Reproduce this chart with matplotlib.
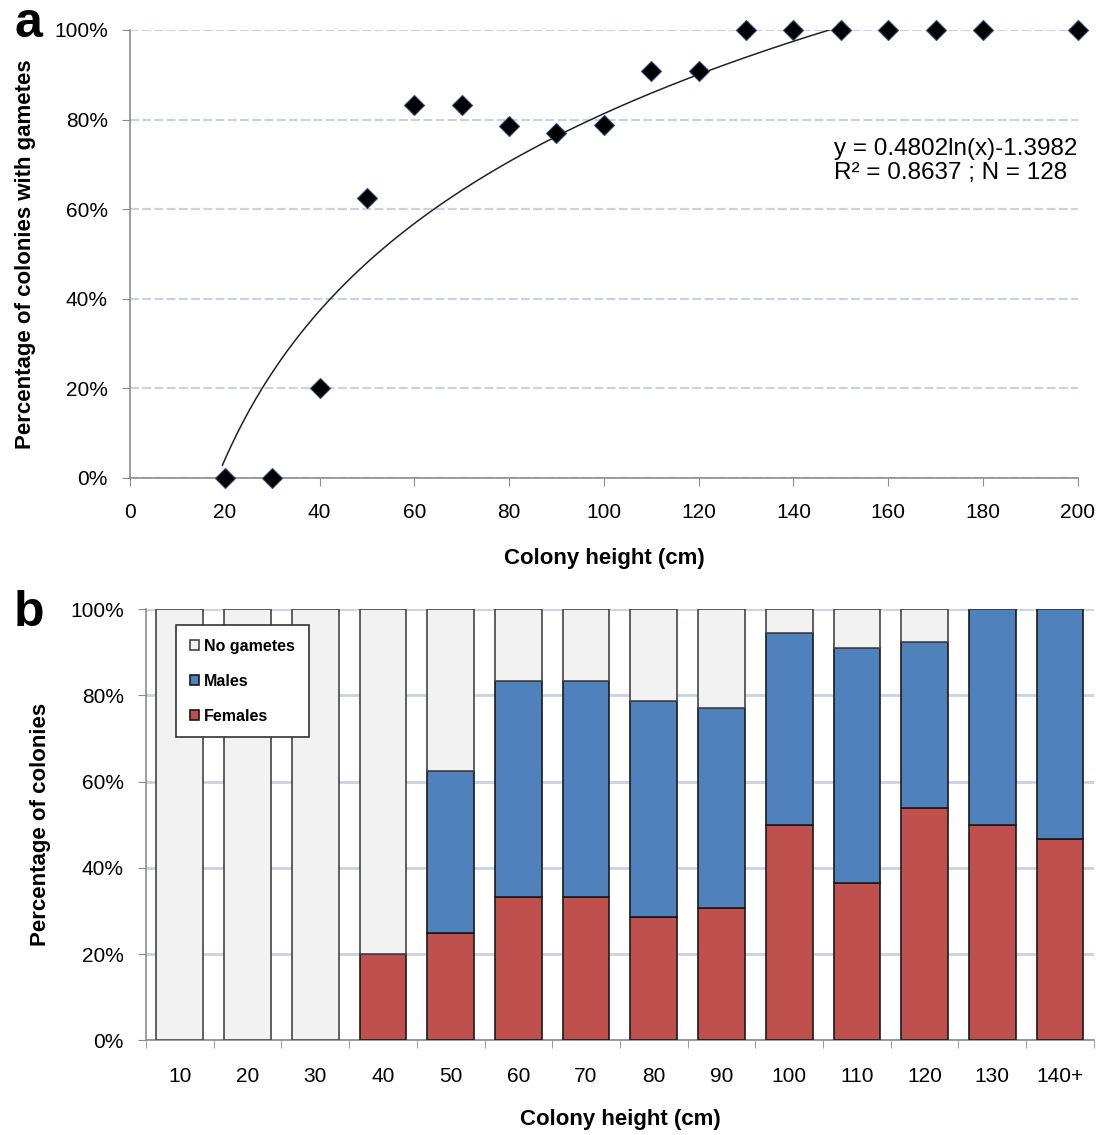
import numpy as np
import matplotlib
matplotlib.use('Agg')
import matplotlib.pyplot as plt
from matplotlib.ticker import PercentFormatter

plt.rcParams['font.family'] = ['Liberation Sans', 'DejaVu Sans']

# Panel a: fraction of colonies with gametes by height
height_a = [20, 30, 40, 50, 60, 70, 80, 90, 100, 110, 120, 130, 140, 150, 160, 170, 180, 200]
pct_gametes = [0.0, 0.0, 0.20, 0.625, 0.833, 0.833, 0.786, 0.77, 0.788, 0.908, 0.908,
               1.0, 1.0, 1.0, 1.0, 1.0, 1.0, 1.0]
fit_a, fit_b = 0.4802, -1.3982
fit_range = (19.5, 149.5)

# Panel b: stacked composition by height class
height_b = ['10', '20', '30', '40', '50', '60', '70', '80', '90', '100', '110', '120', '130', '140+']
females = [0.0, 0.0, 0.0, 0.20, 0.25, 0.333, 0.333, 0.286, 0.308, 0.50, 0.364, 0.538, 0.50, 0.467]
males = [0.0, 0.0, 0.0, 0.0, 0.375, 0.50, 0.50, 0.50, 0.462, 0.444, 0.545, 0.385, 0.50, 0.533]
no_gametes = [1.0, 1.0, 1.0, 0.80, 0.375, 0.167, 0.167, 0.214, 0.23, 0.056, 0.091, 0.077, 0.0, 0.0]

spine_col = '#8c8c8c'
grid_col = '#c9d2e3'

fig = plt.figure(figsize=(11.06, 11.35), dpi=100)

# ---------- panel a ----------
ax1 = fig.add_axes([0.1175, 0.5789, 0.857, 0.3947])
x_fit = np.linspace(fit_range[0], fit_range[1], 300)
ax1.plot(x_fit, fit_a * np.log(x_fit) + fit_b, color='#222222', lw=1.1, zorder=3)
ax1.plot(height_a, pct_gametes, linestyle='none', marker='D', markersize=10,
         markerfacecolor='black', markeredgecolor='#2b4a78', markeredgewidth=0.8,
         zorder=4, clip_on=False)

ax1.set_xlim(0, 200)
ax1.set_ylim(0, 1)
ax1.set_xticks(np.arange(0, 201, 20))
ax1.set_yticks(np.arange(0, 1.01, 0.2))
ax1.yaxis.set_major_formatter(PercentFormatter(1.0, decimals=0))
ax1.grid(axis='y', color=grid_col, linestyle=(0, (4, 1.5)), lw=1.6, zorder=0)
for s in ['top', 'right']:
    ax1.spines[s].set_visible(False)
for s in ['left', 'bottom']:
    ax1.spines[s].set_color(spine_col)
    ax1.spines[s].set_linewidth(1.2)
ax1.tick_params(axis='both', direction='out', length=6, color=spine_col, labelsize=15)
ax1.tick_params(axis='x', pad=12)
ax1.tick_params(axis='y', pad=10)
ax1.set_xlabel('Colony height (cm)', fontsize=16, fontweight='bold', labelpad=19)
ax1.set_ylabel('Percentage of colonies with gametes', fontsize=16, fontweight='bold', labelpad=13)
ax1.text(1.0, 0.707, 'y = 0.4802ln(x)-1.3982\nR² = 0.8637 ; N = 128',
         transform=ax1.transAxes, ha='right', va='center', multialignment='left',
         fontsize=17.5, linespacing=1.15)

# ---------- panel b ----------
ax2 = fig.add_axes([0.132, 0.0833, 0.857, 0.380])
pos = np.arange(len(height_b))
w = 0.69
ax2.bar(pos, females, w, color='#c0504d', edgecolor='#1a1a1a', lw=1.2, label='Females', zorder=3)
ax2.bar(pos, males, w, bottom=females, color='#4f81bd', edgecolor='#1a1a1a', lw=1.2,
        label='Males', zorder=3)
bottom_ng = np.array(females) + np.array(males)
ax2.bar(pos, no_gametes, w, bottom=bottom_ng, color='#f2f2f2', edgecolor='#444444', lw=1.2,
        label='No gametes', zorder=3)

ax2.set_xlim(-0.5, len(height_b) - 0.5)
ax2.set_ylim(0, 1)
ax2.set_yticks(np.arange(0, 1.01, 0.2))
ax2.yaxis.set_major_formatter(PercentFormatter(1.0, decimals=0))
ax2.set_xticks(pos)
ax2.set_xticklabels(height_b)
ax2.set_xticks(np.arange(-0.5, len(height_b), 1.0), minor=True)
ax2.grid(axis='y', color=grid_col, linestyle='-', lw=2.0, zorder=0)
for s in ['top', 'right']:
    ax2.spines[s].set_visible(False)
for s in ['left', 'bottom']:
    ax2.spines[s].set_color(spine_col)
    ax2.spines[s].set_linewidth(1.2)
ax2.tick_params(axis='x', which='major', length=0, labelsize=15, pad=19)
ax2.tick_params(axis='x', which='minor', length=6, color=spine_col, direction='out')
ax2.tick_params(axis='y', direction='out', length=6, color=spine_col, labelsize=15, pad=10)
ax2.set_xlabel('Colony height (cm)', fontsize=16, fontweight='bold', labelpad=17)
ax2.set_ylabel('Percentage of colonies', fontsize=16, fontweight='bold', labelpad=14)

h, l = ax2.get_legend_handles_labels()
leg = ax2.legend(h[::-1], l[::-1], loc='upper left', bbox_to_anchor=(0.032, 0.963),
                 frameon=True, fancybox=False, edgecolor='#333333', framealpha=1,
                 handlelength=0.6, handleheight=0.6, handletextpad=0.3,
                 labelspacing=1.25, borderpad=0.85, borderaxespad=0,
                 prop={'size': 11.5, 'weight': 'bold'})
leg.get_frame().set_linewidth(1.2)
leg.set_zorder(5)

# panel letters
fig.text(0.026, 0.979, 'a', fontsize=36, fontweight='bold', ha='center', va='center')
fig.text(0.026, 0.460, 'b', fontsize=36, fontweight='bold', ha='center', va='center')

fig.savefig('out.png', dpi=100)
